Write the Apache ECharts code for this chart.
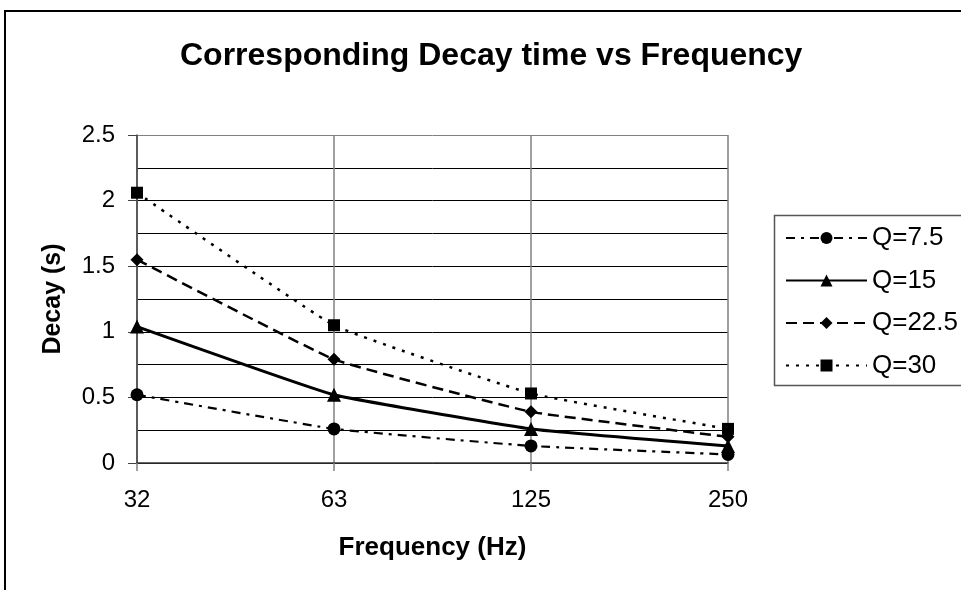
<!DOCTYPE html>
<html>
<head>
<meta charset="utf-8">
<script src="https://cdn.jsdelivr.net/npm/echarts@6/dist/echarts.min.js"></script>
<style>html,body{margin:0;padding:0;background:#fff;}#chart{width:961px;height:590px;}</style>
</head>
<body>
<div id="chart"></div>
<script>
const categories = ['32', '63', '125', '250'];
const seriesNames = ['Q=7.5', 'Q=15', 'Q=22.5', 'Q=30'];
const q75 = [0.52, 0.26, 0.13, 0.065];
const q15 = [1.04, 0.52, 0.26, 0.13];
const q225 = [1.55, 0.79, 0.39, 0.2];
const q30 = [2.06, 1.05, 0.53, 0.26];
const yTicks = { min: 0, max: 2.5, interval: 0.5 };

const FONT = 'Liberation Sans, Arial, sans-serif';
const chart = echarts.init(document.getElementById('chart'));

function mk(name, data, symbol, size, lineType, width) {
  return {
    name: name, type: 'line', data: data, symbol: symbol, symbolSize: size,
    smooth: 0.1, showSymbol: true,
    itemStyle: { color: '#000', borderWidth: 0 },
    lineStyle: { color: '#000', width: width, type: lineType },
    emphasis: { disabled: true }
  };
}

chart.setOption({
  animation: false,
  backgroundColor: '#fff',
  title: {
    text: 'Corresponding Decay time vs Frequency',
    left: 175, top: 35,
    textStyle: { fontFamily: FONT, fontWeight: 'bold', fontSize: 32, color: '#000' }
  },
  graphic: [
    { type: 'rect', shape: { x: 5, y: 11, width: 1000, height: 1000 }, style: { fill: 'none', stroke: '#000', lineWidth: 2 }, z: -1 },
    { type: 'rect', shape: { x: 774.5, y: 215.5, width: 200, height: 170 }, style: { fill: '#fff', stroke: '#555', lineWidth: 1.5 }, z: 0 }
  ],
  legend: {
    orient: 'vertical', left: 785, top: 225, padding: 0,
    itemWidth: 81, itemHeight: 15, itemGap: 16.5,
    textStyle: { fontFamily: FONT, fontSize: 26, color: '#000', padding: [0, 0, 0, 0] },
    data: seriesNames, z: 5
  },
  grid: { left: 137, right: 233, top: 135, bottom: 127 },
  xAxis: {
    type: 'category', data: categories, boundaryGap: false,
    name: 'Frequency (Hz)', nameLocation: 'middle', nameGap: 72,
    nameTextStyle: { fontFamily: FONT, fontWeight: 'bold', fontSize: 26, color: '#000' },
    axisLine: { lineStyle: { color: '#333', width: 1.5 } },
    axisTick: { show: true, length: 8, alignWithLabel: true, lineStyle: { color: '#808080', width: 1.5 } },
    axisLabel: { fontFamily: FONT, fontSize: 24, color: '#000', margin: 25 },
    splitLine: { show: true, lineStyle: { color: '#808080', width: 1.5 } }
  },
  yAxis: {
    type: 'value', min: yTicks.min, max: yTicks.max, interval: yTicks.interval,
    name: 'Decay (s)', nameLocation: 'middle', nameGap: 71, nameRotate: 90,
    nameTextStyle: { fontFamily: FONT, fontWeight: 'bold', fontSize: 25, color: '#000' },
    axisLine: { show: true, lineStyle: { color: '#444', width: 1.5 } },
    axisTick: { show: true, length: 9, lineStyle: { color: '#444', width: 1 } },
    axisLabel: { fontFamily: FONT, fontSize: 24, color: '#000', margin: 22 },
    splitLine: { show: true, lineStyle: { color: ['#000', '#000', '#000', '#000', '#000', '#808080'], width: 1 } },
    minorTick: { show: false, splitNumber: 2 },
    minorSplitLine: { show: true, lineStyle: { color: '#000', width: 1 } }
  },
  series: [
    mk('Q=7.5', q75, 'circle', 13, [9, 6, 3, 6], 2.2),
    mk('Q=15', q15, 'triangle', 14, 'solid', 3),
    mk('Q=22.5', q225, 'diamond', 13, [11, 6], 2.5),
    mk('Q=30', q30, 'rect', 12, [3, 7], 2.5)
  ]
});
</script>
</body>
</html>
